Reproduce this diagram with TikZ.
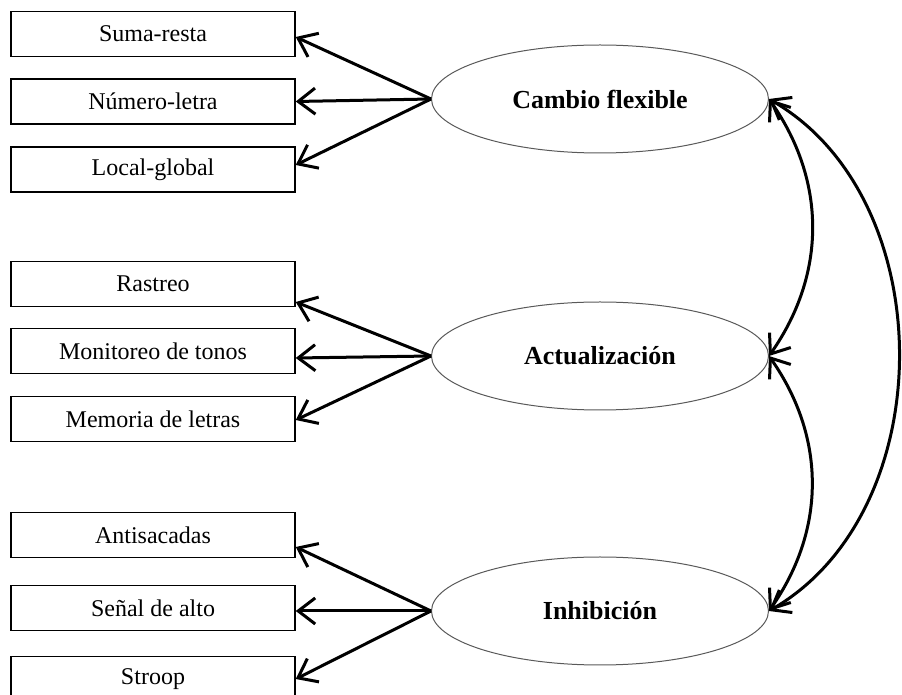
\documentclass[tikz,border=0pt]{standalone}
\usepackage{fontspec}
\setmainfont{Liberation Serif}
\usetikzlibrary{shapes.geometric,arrows.meta}

\begin{document}
\begin{tikzpicture}
        [%%%%%%%%%%%%%%%%%%%%%%%%%%%%%%
        x=0.5pt, y=-0.5pt,
        task/.style={draw=black, line width=0.75pt, inner sep=0pt,
          minimum width=142pt, minimum height=22.5pt,
          font=\fontsize{12}{14}\selectfont},
        factor/.style={ellipse, draw=black!65, line width=0.5pt, inner sep=0pt,
          minimum width=168.5pt, minimum height=54pt,
          font=\fontsize{13}{16}\selectfont\bfseries},
        load/.style={-{Straight Barb[length=8.5pt,width=13pt]}, line width=1.5pt},
        corr/.style={{Straight Barb[length=8.5pt,width=13pt]}-{Straight Barb[length=8.5pt,width=13pt]}, line width=1.5pt},
        ]%%%%%%%%%%%%%%%%%%%%%%%%%%%%%%
        \useasboundingbox (0,0) rectangle (902,695);

        % tasks, one box per row
        \foreach \name/\y/\txt in {sr/34/Suma-resta, nl/101.5/Número-letra, lg/169.5/Local-global,
            ra/284/Rastreo, mt/351/Monitoreo de tonos, ml/419/Memoria de letras,
            an/535/Antisacadas, sa/608/Señal de alto, st/679/Stroop}{
          \node[task] (\name) at (153,\y) {\txt};
        }

        % latent factors
        \node[factor] (cf) at (600,99) {Cambio flexible};
        \node[factor] (ac) at (600,356) {Actualización};
        \node[factor] (ih) at (600,611) {Inhibición};

        \draw[load] (cf.west) -- ([yshift=-1.5pt]sr.east);
        \draw[load] (cf.west) -- (nl.east);
        \draw[load] (cf.west) -- ([yshift=2.25pt]lg.east);

        \draw[load] (ac.west) -- ([yshift=-9pt]ra.east);
        \draw[load] (ac.west) -- ([yshift=-3.5pt]mt.east);
        \draw[load] (ac.west) -- ([yshift=-0.5pt]ml.east);

        \draw[load] (ih.west) -- ([yshift=-6pt]an.east);
        \draw[load] (ih.west) -- ([yshift=-1.5pt]sa.east);
        \draw[load] (ih.west) -- ([yshift=0pt]st.east);

        % correlations between factors
        \draw[corr] (cf.east) to[bend left=35] (ac.east);
        \draw[corr] (ac.east) to[bend left=35] (ih.east);
        \draw[corr] (cf.east) to[bend left=60] (ih.east);

      \end{tikzpicture}
\end{document}
